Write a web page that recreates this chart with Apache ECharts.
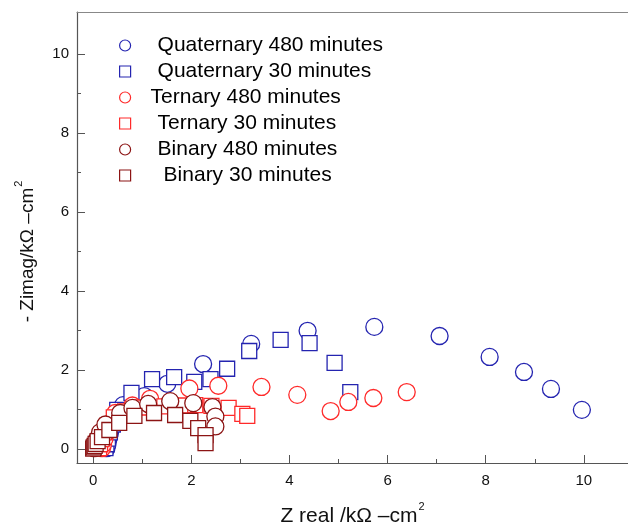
<!DOCTYPE html>
<html>
<head>
<meta charset="utf-8">
<script src="https://cdn.jsdelivr.net/npm/echarts@6/dist/echarts.min.js"></script>
<style>html,body{margin:0;padding:0;background:#fff}#c{width:628px;height:526px}</style>
</head>
<body>
<div id="c"></div>
<script>
const seriesNames = ["Quaternary 480 minutes","Quaternary 30 minutes","Ternary 480 minutes","Ternary 30 minutes","Binary 480 minutes","Binary 30 minutes"];
const quaternary480 = [[0.27,0.02],[0.29,0.12],[0.31,0.25],[0.34,0.40],[0.38,0.56],[0.44,0.75],[0.52,0.93],[0.61,1.11],[1.04,1.34],[1.51,1.65],[2.24,2.15],[3.22,2.66],[4.37,2.99],[5.73,3.09],[7.06,2.86],[8.08,2.33],[8.78,1.95],[9.33,1.52],[9.96,0.99]];
const quaternary30 = [[0.25,0.02],[0.27,0.12],[0.30,0.26],[0.34,0.42],[0.40,0.62],[0.49,0.99],[0.78,1.42],[1.20,1.77],[1.65,1.82],[2.06,1.70],[2.39,1.77],[2.73,2.03],[3.18,2.48],[3.82,2.76],[4.41,2.68],[4.92,2.18],[5.24,1.44]];
const ternary480 = [[0.18,0.02],[0.20,0.12],[0.23,0.26],[0.27,0.42],[0.33,0.60],[0.45,0.91],[0.80,1.10],[1.16,1.27],[1.96,1.53],[2.55,1.60],[3.43,1.57],[4.16,1.37],[4.84,0.96],[5.20,1.19],[5.71,1.29],[6.39,1.44]];
const ternary30 = [[0.12,0.02],[0.14,0.12],[0.17,0.25],[0.22,0.42],[0.30,0.60],[0.42,0.80],[0.65,0.95],[1.00,1.05],[1.45,1.08],[1.80,1.10],[2.08,1.11],[2.41,1.09],[2.76,1.04],[3.04,0.89],[3.14,0.84]];
const binary480 = [[0.02,0.02],[0.04,0.12],[0.08,0.25],[0.14,0.42],[0.25,0.62],[0.55,0.91],[0.80,1.04],[1.12,1.14],[1.57,1.21],[2.04,1.16],[2.43,1.06],[2.49,0.82],[2.49,0.57]];
const binary30 = [[0.00,0.01],[0.01,0.04],[0.03,0.08],[0.05,0.13],[0.09,0.20],[0.18,0.30],[0.33,0.48],[0.53,0.66],[0.84,0.84],[1.24,0.91],[1.67,0.86],[1.98,0.71],[2.14,0.53],[2.29,0.35],[2.29,0.15]];
const xMajorTicks = [0,2,4,6,8,10];
const xMinorTicks = [1,3,5,7,9];
const yMajorTicks = [0,2,4,6,8,10];
const yMinorTicks = [1,3,5,7,9];

const allData = [quaternary480, quaternary30, ternary480, ternary30, binary480, binary30];
const colors = ['#2424b0','#2424b0','#ff2a2a','#ff2a2a','#8c1414','#8c1414'];
const shapes = ['circle','rect','circle','rect','circle','rect'];
const sizes = [17,15,17,15,17,15];
const legendPad = [22,22,15,22,22,28];

const XMIN=-0.33, XMAX=10.9, YMIN=-0.355, YMAX=11.06;
const axisCol = '#555';
const FONT = 'Liberation Sans, Arial';
function rich(sz){ return {a:{fontSize:sz,color:'#111',fontFamily:FONT,verticalAlign:'bottom'},s:{fontSize:11,color:'#111',fontFamily:FONT,verticalAlign:'top',padding:[0,0,Math.round(sz*0.7),1]}}; }
const chart = echarts.init(document.getElementById('c'));
chart.setOption({
  animation:false,
  grid:{left:77,right:0,top:12,bottom:63,outerBoundsMode:'none',containLabel:false},
  legend:{
    left:114, top:30, orient:'vertical', itemWidth:11, itemHeight:11, itemGap:5,
    textStyle:{fontSize:21,color:'#000',fontFamily:FONT,lineHeight:21},
    data: seriesNames.map((n,i)=>({name:n, icon:shapes[i], itemStyle:{color:'#fff',borderColor:colors[i],borderWidth:1.2}, textStyle:{padding:[0,0,0,legendPad[i]]}}))
  },
  xAxis:[
    {type:'value',min:XMIN,max:XMAX,position:'bottom',
     axisLine:{onZero:false,lineStyle:{color:axisCol,width:1.2}},
     axisTick:{show:true,inside:true,length:8,customValues:xMajorTicks,lineStyle:{color:axisCol}},
     axisLabel:{customValues:xMajorTicks,fontSize:15,color:'#111',margin:10,fontFamily:FONT},
     splitLine:{show:false},
     name:'{a|Z real /kΩ –cm}{s|2}', nameLocation:'middle', nameGap:38,
     nameTextStyle:{rich:rich(21)}
    },
    {type:'value',min:XMIN,max:XMAX,position:'bottom',
     axisLine:{show:false,onZero:false},
     axisTick:{show:true,inside:true,length:4,customValues:xMinorTicks,lineStyle:{color:axisCol}},
     axisLabel:{show:false},splitLine:{show:false}
    },
    {type:'value',min:XMIN,max:XMAX,position:'top',
     axisLine:{show:true,onZero:false,lineStyle:{color:'#888',width:1.2}},
     axisTick:{show:false},axisLabel:{show:false},splitLine:{show:false}
    }
  ],
  yAxis:[
    {type:'value',min:YMIN,max:YMAX,position:'left',
     axisLine:{show:true,onZero:false,lineStyle:{color:axisCol,width:1.2}},
     axisTick:{show:true,inside:true,length:8,customValues:yMajorTicks,lineStyle:{color:axisCol}},
     axisLabel:{customValues:yMajorTicks,fontSize:15,color:'#111',margin:8,fontFamily:FONT},
     splitLine:{show:false},
     name:'{a|- Zimag/kΩ –cm}{s|2}', nameLocation:'middle', nameGap:40, nameRotate:90,
     nameTextStyle:{rich:rich(19),padding:[0,28,0,0]}
    },
    {type:'value',min:YMIN,max:YMAX,position:'left',
     axisLine:{show:false,onZero:false},
     axisTick:{show:true,inside:true,length:4,customValues:yMinorTicks,lineStyle:{color:axisCol}},
     axisLabel:{show:false},splitLine:{show:false}
    }
  ],
  series: allData.map((d,i)=>({
    name:seriesNames[i], type:'scatter', data:d, symbol:shapes[i], symbolSize:sizes[i],
    xAxisIndex:0, yAxisIndex:0,
    itemStyle:{color:'#fff',borderColor:colors[i],borderWidth:1.3,opacity:1},
    emphasis:{disabled:true}
  }))
});
</script>
</body>
</html>
